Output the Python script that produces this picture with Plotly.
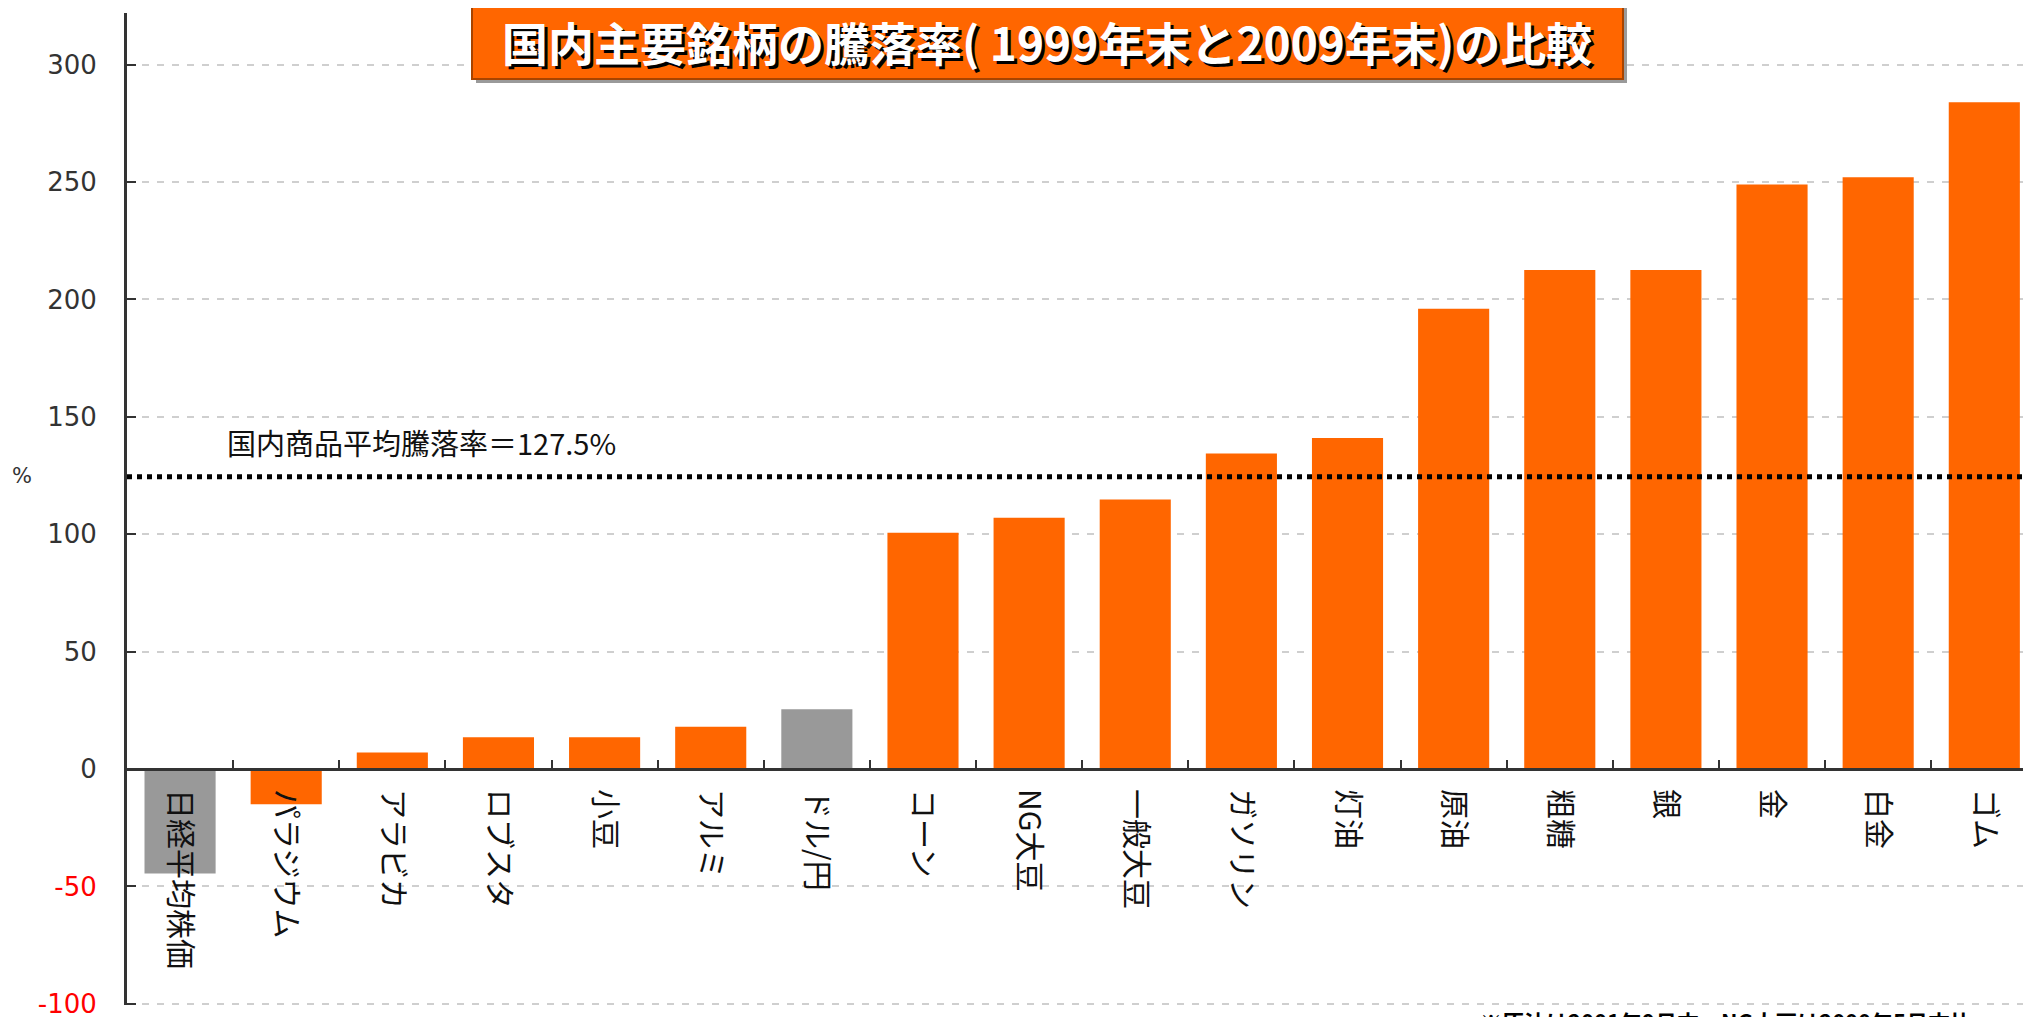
import plotly.graph_objects as go

# ---------------- data ----------------
categories = ["日経平均株価", "パラジウム", "アラビカ", "ロブスタ", "小豆", "アルミ", "ドル/円",
              "コーン", "NG大豆", "一般大豆", "ガソリン", "灯油", "原油", "粗糖", "銀", "金", "白金", "ゴム"]
values = [-44.5, -15.0, 7.0, 13.5, 13.5, 18.0, 25.5,
          100.6, 107.0, 114.8, 134.4, 141.0, 196.0, 212.5, 212.5, 249.0, 252.0, 284.0]
non_commodity = ["日経平均株価", "ドル/円"]
avg_line_value = 124.5
avg_label = "国内商品平均騰落率＝127.5%"
y_tick_vals = [-100, -50, 0, 50, 100, 150, 200, 250, 300]
title_text = "国内主要銘柄の騰落率( 1999年末と2009年末)の比較"
note_text = "※原油は2001年9月末、NG大豆は2000年5月末比"

# ---------------- layout geometry ----------------
# the page body has an 8px margin, so the figure is drawn 8px right/down of the window origin
OFF = 8
WIN_W, WIN_H = 2031, 1017
W, H = WIN_W - OFF, WIN_H - OFF
L, R, T, B = 127 - OFF, 0, 13 - OFF, H - (1005 - OFF)
PW, PH = W - L - R, H - T - B
y_range = [-100.5, 322]
x_range = [-0.5, 17.44]


def px_x(p):  # window pixel -> paper x
    return (p - OFF - L) / PW


def px_y(p):  # window pixel -> paper y
    return (H - B - (p - OFF)) / PH


ORANGE = "#FF6600"
GREY = "#999999"
JP = "Noto Sans CJK JP"

colors = [GREY if c in non_commodity else ORANGE for c in categories]

fig = go.Figure()
fig.add_trace(go.Bar(
    x=categories, y=values, marker=dict(color=colors, line=dict(width=0)),
    width=0.67, hoverinfo="skip", showlegend=False,
))

tick_text = []
for v in y_tick_vals:
    if v < 0:
        tick_text.append(f"<span style='color:#FF0000'>{v}</span>")
    else:
        tick_text.append(f"{v}")

zero_pos = (0 - y_range[0]) / (y_range[1] - y_range[0])

fig.update_layout(
    width=W, height=H,
    margin=dict(l=L, r=R, t=T, b=B, pad=0),
    paper_bgcolor="white", plot_bgcolor="white",
    showlegend=False,
    xaxis=dict(
        type="category", range=x_range, anchor="free", position=zero_pos,
        showline=True, linecolor="#333333", linewidth=3,
        ticks="inside", tickson="boundaries", ticklen=8, tickwidth=2, tickcolor="#333333",
        tickangle=90, tickfont=dict(family=JP, size=30, color="#111111"),
        ticklabelstandoff=12,
        showgrid=False, zeroline=False, automargin=False, fixedrange=True,
    ),
    yaxis=dict(
        range=y_range, tickvals=y_tick_vals, ticktext=tick_text,
        showline=True, linecolor="#333333", linewidth=3,
        ticks="inside", ticklen=9, tickwidth=2, tickcolor="#333333",
        tickfont=dict(family="DejaVu Sans", size=26, color="#333333"),
        ticklabelstandoff=22, ticklabeloverflow="allow",
        showgrid=True, gridcolor="#CFCFCF", gridwidth=2, griddash="7px,8px",
        zeroline=False, automargin=False, fixedrange=True,
    ),
)

# average line
fig.add_shape(type="line", xref="paper", yref="y", x0=0, x1=1,
              y0=avg_line_value, y1=avg_line_value,
              line=dict(color="black", width=5, dash="5px,5px"))
fig.add_annotation(x=0.42, y=139.5, xref="x", yref="y", text=avg_label, showarrow=False,
                   xanchor="left", yanchor="middle",
                   font=dict(family=JP, size=29, color="#111111"))

# "%" label
fig.add_annotation(x=0, y=125, xref="paper", yref="y", text="%", showarrow=False,
                   xanchor="center", yanchor="middle", xshift=-105,
                   font=dict(family="DejaVu Sans", size=21, color="#333333"))

# title box
fig.add_shape(type="rect", xref="paper", yref="paper",
              x0=px_x(476), x1=px_x(1627), y0=px_y(83), y1=px_y(-5),
              line=dict(width=0), fillcolor="#9A9A9A", layer="above")
fig.add_shape(type="rect", xref="paper", yref="paper",
              x0=px_x(472), x1=px_x(1623), y0=px_y(79), y1=px_y(-5),
              line=dict(color="#A84400", width=2), fillcolor=ORANGE, layer="above")
title_cx = px_x(1047)
title_cy = px_y(41)
fig.add_annotation(x=title_cx, y=title_cy, xref="paper", yref="paper", text=f"<b>{title_text}</b>",
                   showarrow=False, xanchor="center", yanchor="middle", xshift=3, yshift=-3,
                   font=dict(family=JP, size=46, color="black"))
fig.add_annotation(x=title_cx, y=title_cy, xref="paper", yref="paper", text=f"<b>{title_text}</b>",
                   showarrow=False, xanchor="center", yanchor="middle",
                   font=dict(family=JP, size=46, color="white"))

# bottom note (partly cut off at the page edge, as in the reference)
fig.add_annotation(x=px_x(1478), y=px_y(1003), xref="paper", yref="paper", text=f"<b>{note_text}</b>",
                   showarrow=False, xanchor="left", yanchor="top",
                   font=dict(family=JP, size=22, color="black"))

fig.write_html("out.html", config={"displayModeBar": False})
